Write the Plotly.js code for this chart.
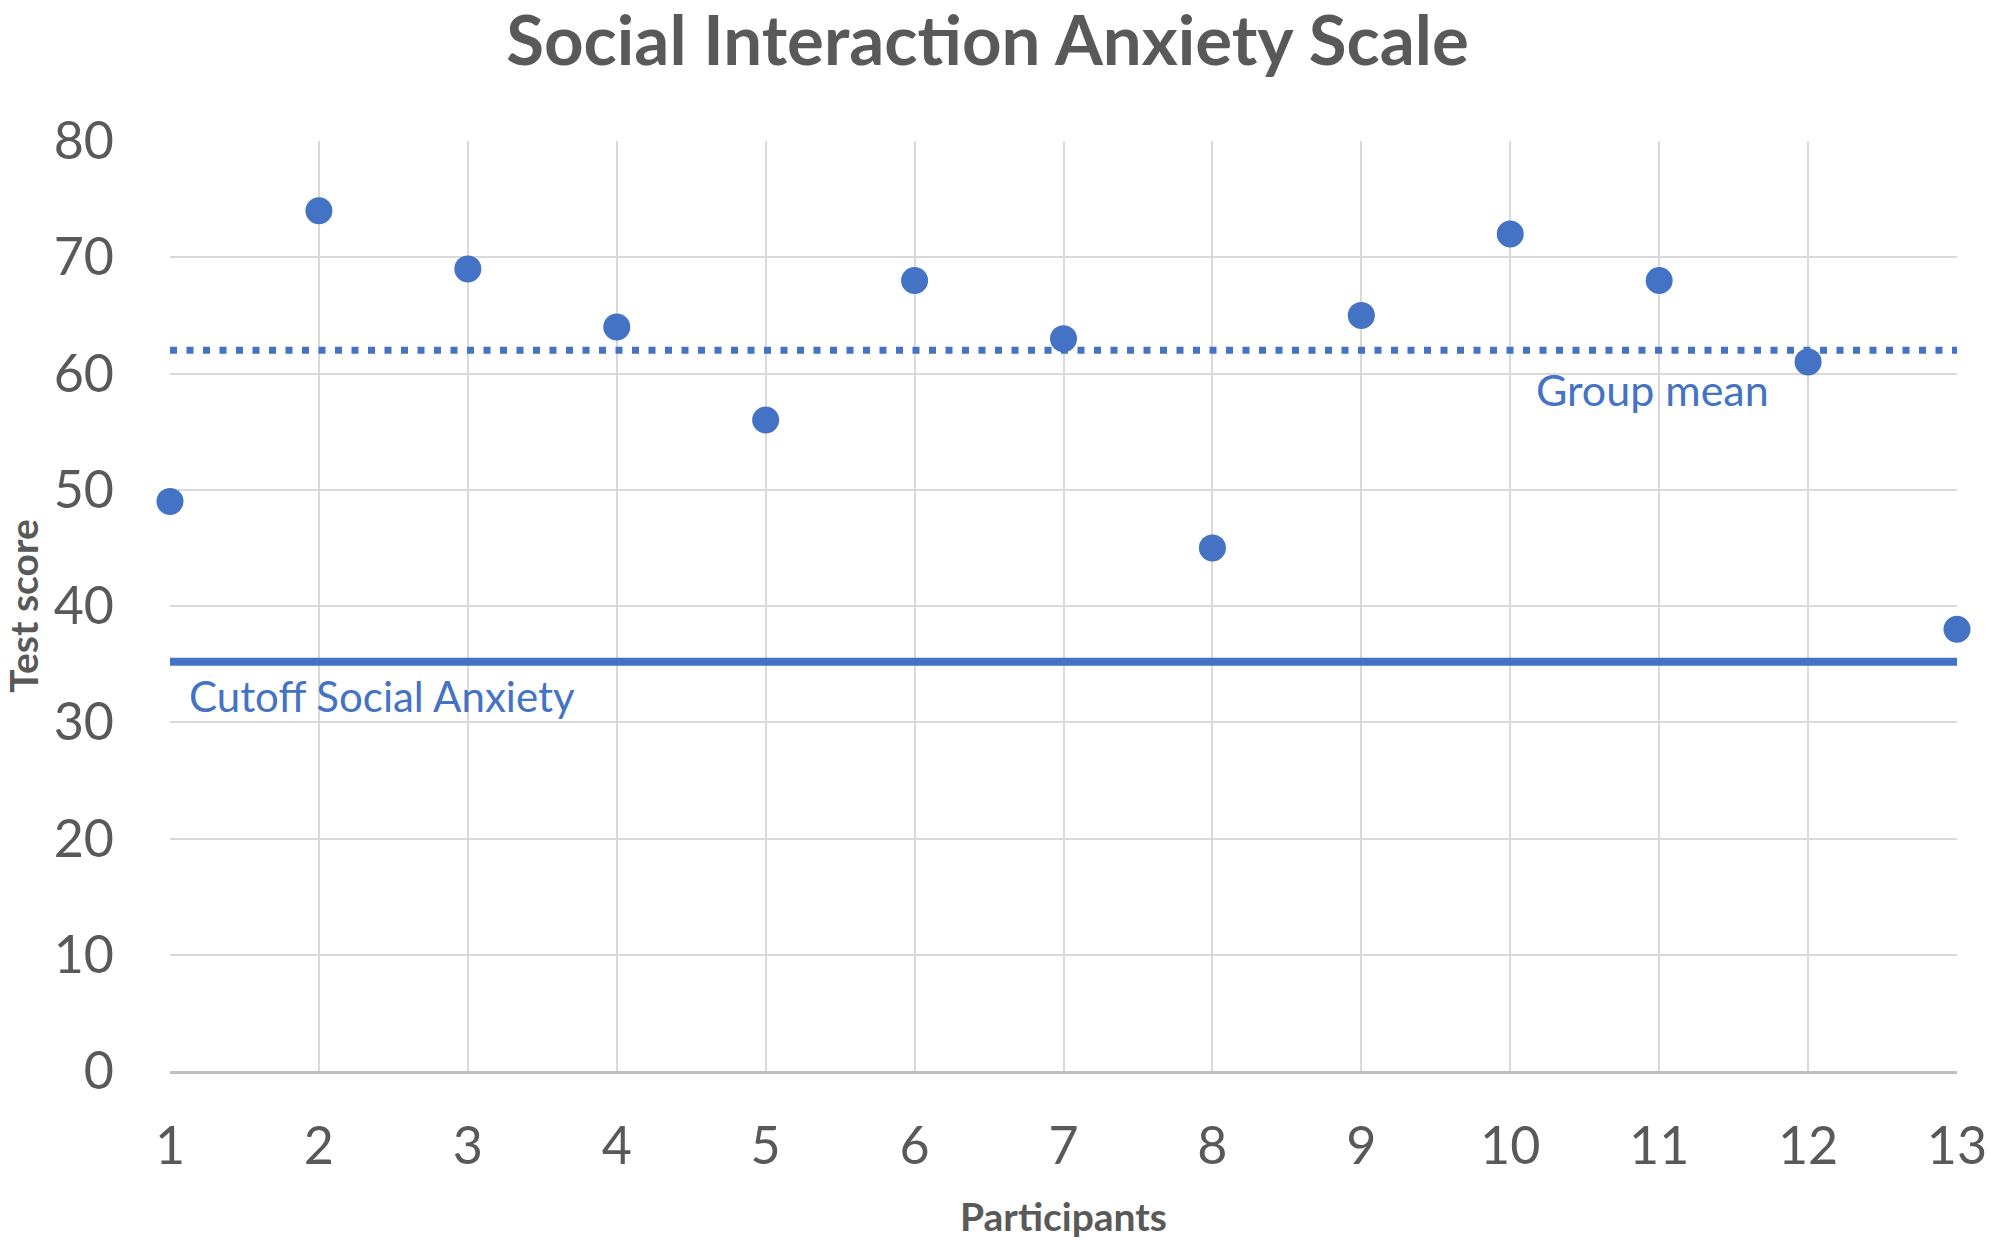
<!DOCTYPE html>
<html>
<head>
<meta charset="utf-8">
<script src="https://cdn.plot.ly/plotly-3.0.1.min.js"></script>
<style>
  html, body { margin: 0; padding: 0; background: #fff; }
  #chart { width: 1995px; height: 1250px; }
</style>
</head>
<body>
<div id="chart"></div>
<script>
// ── Social Interaction Anxiety Scale, score par participant ─────────────────
const participants = [1, 2, 3, 4, 5, 6, 7, 8, 9, 10, 11, 12, 13];
const scores       = [49, 74, 69, 64, 56, 68, 63, 45, 65, 72, 68, 61, 38];
const groupMean    = [62, 62];
const cutoff       = [35.2, 35.2];
const yTicks       = [0, 10, 20, 30, 40, 50, 60, 70, 80];

const BLUE = '#4472C4', GREY_TXT = '#595959', FONT = 'Lato, "Open Sans", sans-serif';
const xEnds = [participants[0], participants[participants.length - 1]];

const traces = [
  {x: xEnds, y: cutoff, mode: 'lines', type: 'scatter', line: {color: BLUE, width: 8}, hoverinfo: 'skip'},
  {x: xEnds, y: groupMean, mode: 'lines', type: 'scatter', line: {color: BLUE, width: 7, dash: '7px,9.5px'}, hoverinfo: 'skip'},
  {x: participants, y: scores, mode: 'markers', type: 'scatter', cliponaxis: false,
   marker: {size: 27, color: BLUE}},
];

const layout = {
  width: 1995, height: 1250,
  paper_bgcolor: '#fff', plot_bgcolor: '#fff',
  showlegend: false,
  margin: {l: 170, r: 38, t: 141, b: 179},
  font: {family: FONT, color: GREY_TXT},
  title: {text: '<b>Social Interaction Anxiety Scale</b>', font: {size: 69, color: GREY_TXT, family: FONT},
          x: 0.495, xref: 'container', xanchor: 'center', y: 0.967, yref: 'container', yanchor: 'middle'},
  xaxis: {range: [1, 13], tickvals: participants, showgrid: true, gridcolor: '#d9d9d9', gridwidth: 2,
          zeroline: false, showline: true, linecolor: '#bfbfbf', linewidth: 3, ticks: '',
          ticklabelstandoff: 28, tickfont: {size: 52, color: GREY_TXT},
          title: {text: '<b>Participants</b>', font: {size: 39, color: GREY_TXT}, standoff: 30}},
  yaxis: {range: [0, 80], tickvals: yTicks, showgrid: true, gridcolor: '#d9d9d9', gridwidth: 2,
          zeroline: false, showline: false, ticks: '',
          ticklabelstandoff: 55, tickfont: {size: 52, color: GREY_TXT},
          title: {text: '<b>Test score</b>', font: {size: 39, color: GREY_TXT}, standoff: 36}},
  annotations: [
    {x: 10.16, y: 58.6, xref: 'x', yref: 'y', text: 'Group mean', showarrow: false,
     xanchor: 'left', yanchor: 'middle', font: {size: 43, color: BLUE}},
    {x: 1.114, y: 32.3, xref: 'x', yref: 'y', text: 'Cutoff Social Anxiety', showarrow: false,
     xanchor: 'left', yanchor: 'middle', font: {size: 42, color: BLUE}},
  ],
};

Plotly.newPlot('chart', traces, layout, {displayModeBar: false, staticPlot: true});
</script>
</body>
</html>
